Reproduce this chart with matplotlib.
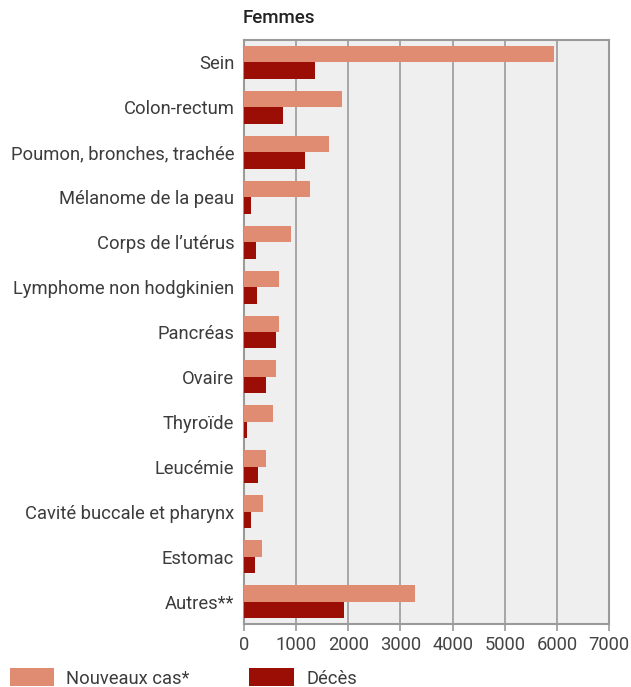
import numpy as np
import matplotlib.pyplot as plt

# données
categories = ['Sein', 'Colon-rectum', 'Poumon, bronches, trachée', 'Mélanome de la peau',
              'Corps de l\u2019utérus', 'Lymphome non hodgkinien', 'Pancréas', 'Ovaire',
              'Thyroïde', 'Leucémie', 'Cavité buccale et pharynx', 'Estomac', 'Autres**']
nouveaux_cas = [5950, 1880, 1630, 1270, 900, 670, 670, 615, 560, 420, 365, 345, 3280]
deces = [1365, 750, 1170, 135, 230, 250, 615, 420, 60, 270, 135, 210, 1920]
xticks = [0, 1000, 2000, 3000, 4000, 5000, 6000, 7000]

col_new = '#e08c72'
col_dec = '#9b0e06'
gris = '#9a9a9a'
fs = 13.2

plt.rcParams['font.family'] = ['Roboto', 'DejaVu Sans']

fig = plt.figure(figsize=(6.31, 6.87), dpi=100)
ax = fig.add_axes([244 / 631, 1 - 624 / 687, 365 / 631, 584 / 687])

y = np.arange(len(categories))
h = 0.367
b1 = ax.barh(y - h / 2, nouveaux_cas, height=h, color=col_new, label='Nouveaux cas*', zorder=3)
b2 = ax.barh(y + h / 2, deces, height=h, color=col_dec, label='Décès', zorder=3)

ax.set_xlim(0, 7000)
ax.set_ylim(len(categories) - 0.5, -0.5)
ax.set_facecolor('#efefef')
ax.set_xticks(xticks)
ax.set_yticks(y)
ax.set_yticklabels(categories)
ax.tick_params(axis='y', length=0, pad=7, labelsize=fs, labelcolor='#3c3c3c')
ax.tick_params(axis='x', length=5, width=1.2, color=gris, pad=4, labelsize=fs, labelcolor='#444444')
ax.grid(axis='x', color=gris, linewidth=1.2, zorder=1)
for s in ax.spines.values():
    s.set_color(gris)
    s.set_linewidth(1.5)

fig.text(243 / 631, 1 - 18 / 687, 'Femmes', fontsize=13.5, fontweight='medium',
         color='#222222', va='center', ha='left')

fig.legend(handles=[b1, b2], loc='lower left', bbox_to_anchor=(-7 / 631, -17 / 687),
           ncol=2, frameon=False, fontsize=fs, handlelength=2.45, handleheight=1.1,
           handletextpad=0.65, columnspacing=3.25, labelcolor='#3c3c3c')

fig.savefig('out.png', dpi=100)
